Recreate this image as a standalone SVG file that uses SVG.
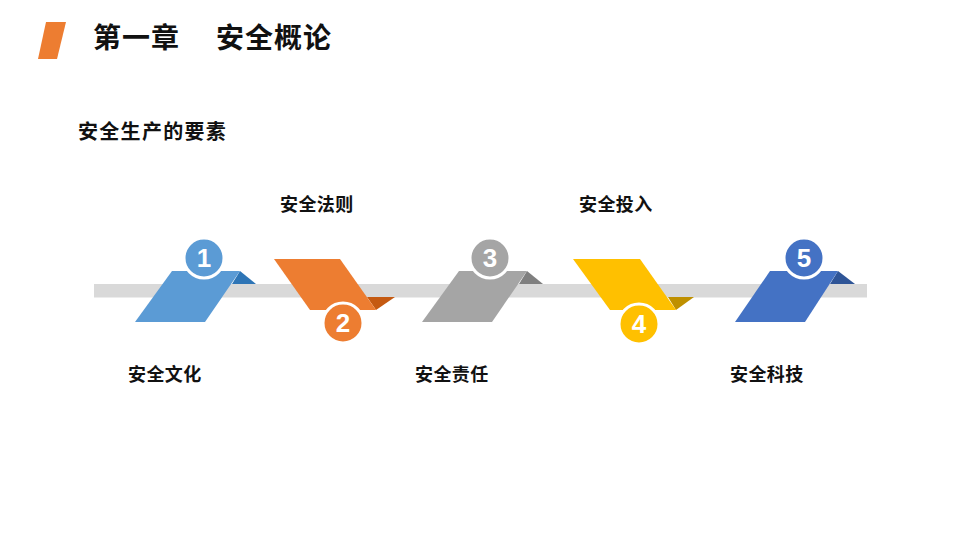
<svg xmlns="http://www.w3.org/2000/svg" width="960" height="540" viewBox="0 0 960 540">
<style>
.cj{font-family:"Noto Sans CJK SC","Noto Sans",sans-serif;font-weight:700;fill:#111}
.lab{font-size:18px;letter-spacing:0.4px}
.num{font-family:"Liberation Sans",Arial,sans-serif;font-weight:700;font-size:26px;fill:#fff;text-anchor:middle}
.c{stroke:#fff;stroke-width:3}
</style>
<rect width="960" height="540" fill="#fff"/>
<g id="header">
<polygon points="46,22 66,22 57,59 38,59" fill="#ed7d31"/>
<text class="cj" x="93" y="48" font-size="28" letter-spacing="1">第一章<tspan x="216">安全概论</tspan></text>
<text class="cj" x="78" y="139" font-size="20" letter-spacing="1.3">安全生产的要素</text>
</g>
<g id="connectors">
<rect x="94" y="284" width="773" height="13.5" fill="#d9d9d9"/>
</g>
<g id="node1">
<polygon points="240,271 256,284 232,284" fill="#2e75b6"/>
<polygon points="172,271 240,271 205,322 135,322" fill="#5b9bd5"/>
<circle class="c" cx="204" cy="258" r="20" fill="#5b9bd5"/>
<text class="num" x="204" y="267">1</text>
<text class="cj lab" x="128" y="381">安全文化</text>
</g>
<g id="node2">
<polygon points="367,297 395,297 376,310" fill="#c55a11"/>
<polygon points="274,259 340,259 376,310 310,310" fill="#ed7d31"/>
<circle class="c" cx="343" cy="323" r="20" fill="#ed7d31"/>
<text class="num" x="343" y="332">2</text>
<text class="cj lab" x="280" y="211">安全法则</text>
</g>
<g id="node3">
<polygon points="527,271 543,284 519,284" fill="#7f7f7f"/>
<polygon points="459,271 527,271 492,322 422,322" fill="#a5a5a5"/>
<circle class="c" cx="490" cy="258" r="20" fill="#a5a5a5"/>
<text class="num" x="490" y="267">3</text>
<text class="cj lab" x="415" y="381">安全责任</text>
</g>
<g id="node4">
<polygon points="668,297 694,297 676,310" fill="#bf9000"/>
<polygon points="573,259 640,259 676,310 610,310" fill="#ffc000"/>
<circle class="c" cx="639" cy="324" r="20" fill="#ffc000"/>
<text class="num" x="639" y="333">4</text>
<text class="cj lab" x="579" y="211">安全投入</text>
</g>
<g id="node5">
<polygon points="838,271 855,284 830,284" fill="#2f5597"/>
<polygon points="770,271 838,271 805,322 735,322" fill="#4472c4"/>
<circle class="c" cx="804" cy="258" r="20" fill="#4472c4"/>
<text class="num" x="804" y="267">5</text>
<text class="cj lab" x="730" y="381">安全科技</text>
</g>
</svg>
